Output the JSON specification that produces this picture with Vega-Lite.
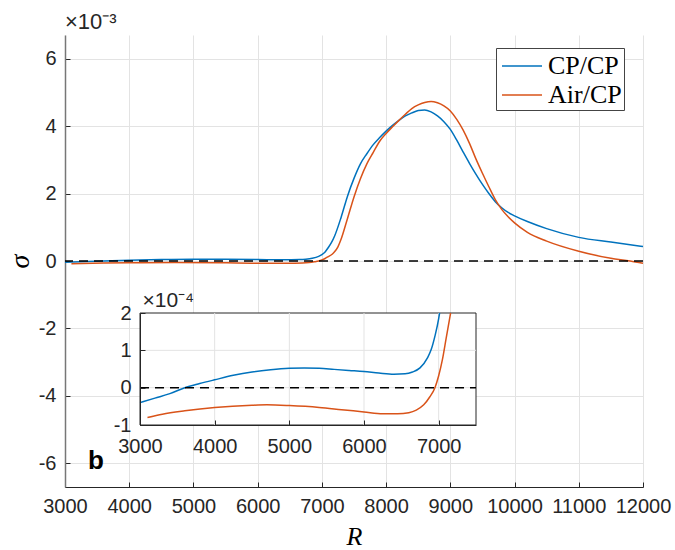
{
  "$schema": "https://vega.github.io/schema/vega-lite/v6.json",
  "width": 578,
  "height": 452,
  "autosize": {"type": "none"},
  "padding": {"left": 65, "top": 35, "right": 32, "bottom": 63},
  "background": "white",
  "config": {"view": {"stroke": null}, "font": "Liberation Sans"},
  "title": {"text": "×10⁻³", "anchor": "start", "frame": "group", "fontSize": 22, "fontWeight": "normal", "font": "Liberation Sans", "color": "#262626", "offset": 1},
  "datasets": {
    "main": [
      {"R": 3000, "sigma": -0.040, "series": "CP/CP"},
      {"R": 3600, "sigma": 0.000, "series": "CP/CP"},
      {"R": 4000, "sigma": 0.021, "series": "CP/CP"},
      {"R": 4500, "sigma": 0.042, "series": "CP/CP"},
      {"R": 5000, "sigma": 0.052, "series": "CP/CP"},
      {"R": 5500, "sigma": 0.050, "series": "CP/CP"},
      {"R": 6000, "sigma": 0.043, "series": "CP/CP"},
      {"R": 6400, "sigma": 0.036, "series": "CP/CP"},
      {"R": 6650, "sigma": 0.042, "series": "CP/CP"},
      {"R": 6750, "sigma": 0.053, "series": "CP/CP"},
      {"R": 6850, "sigma": 0.080, "series": "CP/CP"},
      {"R": 6950, "sigma": 0.138, "series": "CP/CP"},
      {"R": 7000, "sigma": 0.190, "series": "CP/CP"},
      {"R": 7050, "sigma": 0.270, "series": "CP/CP"},
      {"R": 7100, "sigma": 0.400, "series": "CP/CP"},
      {"R": 7150, "sigma": 0.550, "series": "CP/CP"},
      {"R": 7200, "sigma": 0.750, "series": "CP/CP"},
      {"R": 7300, "sigma": 1.300, "series": "CP/CP"},
      {"R": 7400, "sigma": 1.930, "series": "CP/CP"},
      {"R": 7500, "sigma": 2.450, "series": "CP/CP"},
      {"R": 7600, "sigma": 2.880, "series": "CP/CP"},
      {"R": 7700, "sigma": 3.180, "series": "CP/CP"},
      {"R": 7800, "sigma": 3.450, "series": "CP/CP"},
      {"R": 7900, "sigma": 3.660, "series": "CP/CP"},
      {"R": 8000, "sigma": 3.850, "series": "CP/CP"},
      {"R": 8100, "sigma": 4.020, "series": "CP/CP"},
      {"R": 8200, "sigma": 4.170, "series": "CP/CP"},
      {"R": 8300, "sigma": 4.300, "series": "CP/CP"},
      {"R": 8400, "sigma": 4.390, "series": "CP/CP"},
      {"R": 8500, "sigma": 4.460, "series": "CP/CP"},
      {"R": 8600, "sigma": 4.480, "series": "CP/CP"},
      {"R": 8700, "sigma": 4.420, "series": "CP/CP"},
      {"R": 8800, "sigma": 4.300, "series": "CP/CP"},
      {"R": 8900, "sigma": 4.130, "series": "CP/CP"},
      {"R": 9000, "sigma": 3.900, "series": "CP/CP"},
      {"R": 9100, "sigma": 3.580, "series": "CP/CP"},
      {"R": 9200, "sigma": 3.230, "series": "CP/CP"},
      {"R": 9300, "sigma": 2.890, "series": "CP/CP"},
      {"R": 9400, "sigma": 2.570, "series": "CP/CP"},
      {"R": 9500, "sigma": 2.270, "series": "CP/CP"},
      {"R": 9600, "sigma": 2.000, "series": "CP/CP"},
      {"R": 9700, "sigma": 1.760, "series": "CP/CP"},
      {"R": 9800, "sigma": 1.580, "series": "CP/CP"},
      {"R": 9900, "sigma": 1.440, "series": "CP/CP"},
      {"R": 10000, "sigma": 1.340, "series": "CP/CP"},
      {"R": 10200, "sigma": 1.170, "series": "CP/CP"},
      {"R": 10500, "sigma": 0.960, "series": "CP/CP"},
      {"R": 11000, "sigma": 0.700, "series": "CP/CP"},
      {"R": 11500, "sigma": 0.560, "series": "CP/CP"},
      {"R": 12000, "sigma": 0.430, "series": "CP/CP"},
      {"R": 3100, "sigma": -0.080, "series": "Air/CP"},
      {"R": 3600, "sigma": -0.062, "series": "Air/CP"},
      {"R": 4000, "sigma": -0.053, "series": "Air/CP"},
      {"R": 4700, "sigma": -0.046, "series": "Air/CP"},
      {"R": 5400, "sigma": -0.053, "series": "Air/CP"},
      {"R": 6000, "sigma": -0.065, "series": "Air/CP"},
      {"R": 6450, "sigma": -0.070, "series": "Air/CP"},
      {"R": 6700, "sigma": -0.060, "series": "Air/CP"},
      {"R": 6800, "sigma": -0.046, "series": "Air/CP"},
      {"R": 6880, "sigma": -0.025, "series": "Air/CP"},
      {"R": 6950, "sigma": 0.000, "series": "Air/CP"},
      {"R": 7000, "sigma": 0.032, "series": "Air/CP"},
      {"R": 7050, "sigma": 0.075, "series": "Air/CP"},
      {"R": 7100, "sigma": 0.132, "series": "Air/CP"},
      {"R": 7160, "sigma": 0.200, "series": "Air/CP"},
      {"R": 7200, "sigma": 0.280, "series": "Air/CP"},
      {"R": 7250, "sigma": 0.420, "series": "Air/CP"},
      {"R": 7300, "sigma": 0.650, "series": "Air/CP"},
      {"R": 7400, "sigma": 1.270, "series": "Air/CP"},
      {"R": 7500, "sigma": 1.900, "series": "Air/CP"},
      {"R": 7600, "sigma": 2.440, "series": "Air/CP"},
      {"R": 7700, "sigma": 2.880, "series": "Air/CP"},
      {"R": 7800, "sigma": 3.220, "series": "Air/CP"},
      {"R": 7900, "sigma": 3.550, "series": "Air/CP"},
      {"R": 8000, "sigma": 3.780, "series": "Air/CP"},
      {"R": 8100, "sigma": 3.980, "series": "Air/CP"},
      {"R": 8200, "sigma": 4.170, "series": "Air/CP"},
      {"R": 8300, "sigma": 4.350, "series": "Air/CP"},
      {"R": 8400, "sigma": 4.520, "series": "Air/CP"},
      {"R": 8500, "sigma": 4.630, "series": "Air/CP"},
      {"R": 8600, "sigma": 4.700, "series": "Air/CP"},
      {"R": 8700, "sigma": 4.730, "series": "Air/CP"},
      {"R": 8800, "sigma": 4.690, "series": "Air/CP"},
      {"R": 8900, "sigma": 4.600, "series": "Air/CP"},
      {"R": 9000, "sigma": 4.450, "series": "Air/CP"},
      {"R": 9100, "sigma": 4.200, "series": "Air/CP"},
      {"R": 9200, "sigma": 3.880, "series": "Air/CP"},
      {"R": 9300, "sigma": 3.480, "series": "Air/CP"},
      {"R": 9400, "sigma": 3.020, "series": "Air/CP"},
      {"R": 9500, "sigma": 2.600, "series": "Air/CP"},
      {"R": 9600, "sigma": 2.200, "series": "Air/CP"},
      {"R": 9700, "sigma": 1.820, "series": "Air/CP"},
      {"R": 9800, "sigma": 1.530, "series": "Air/CP"},
      {"R": 9900, "sigma": 1.310, "series": "Air/CP"},
      {"R": 10000, "sigma": 1.130, "series": "Air/CP"},
      {"R": 10200, "sigma": 0.850, "series": "Air/CP"},
      {"R": 10500, "sigma": 0.590, "series": "Air/CP"},
      {"R": 11000, "sigma": 0.290, "series": "Air/CP"},
      {"R": 11500, "sigma": 0.080, "series": "Air/CP"},
      {"R": 11800, "sigma": 0.000, "series": "Air/CP"},
      {"R": 12000, "sigma": -0.070, "series": "Air/CP"}
    ],
    "inset": [
      {"R": 3000, "sigma4": -0.40, "series": "CP/CP"},
      {"R": 3200, "sigma4": -0.28, "series": "CP/CP"},
      {"R": 3400, "sigma4": -0.16, "series": "CP/CP"},
      {"R": 3600, "sigma4": 0.00, "series": "CP/CP"},
      {"R": 3800, "sigma4": 0.11, "series": "CP/CP"},
      {"R": 4000, "sigma4": 0.21, "series": "CP/CP"},
      {"R": 4250, "sigma4": 0.33, "series": "CP/CP"},
      {"R": 4500, "sigma4": 0.42, "series": "CP/CP"},
      {"R": 4750, "sigma4": 0.48, "series": "CP/CP"},
      {"R": 5000, "sigma4": 0.52, "series": "CP/CP"},
      {"R": 5200, "sigma4": 0.53, "series": "CP/CP"},
      {"R": 5400, "sigma4": 0.52, "series": "CP/CP"},
      {"R": 5600, "sigma4": 0.49, "series": "CP/CP"},
      {"R": 5800, "sigma4": 0.46, "series": "CP/CP"},
      {"R": 6000, "sigma4": 0.43, "series": "CP/CP"},
      {"R": 6200, "sigma4": 0.39, "series": "CP/CP"},
      {"R": 6400, "sigma4": 0.36, "series": "CP/CP"},
      {"R": 6550, "sigma4": 0.37, "series": "CP/CP"},
      {"R": 6650, "sigma4": 0.42, "series": "CP/CP"},
      {"R": 6750, "sigma4": 0.53, "series": "CP/CP"},
      {"R": 6850, "sigma4": 0.80, "series": "CP/CP"},
      {"R": 6900, "sigma4": 1.02, "series": "CP/CP"},
      {"R": 6950, "sigma4": 1.38, "series": "CP/CP"},
      {"R": 7000, "sigma4": 1.85, "series": "CP/CP"},
      {"R": 7012, "sigma4": 2.00, "series": "CP/CP"},
      {"R": 3100, "sigma4": -0.80, "series": "Air/CP"},
      {"R": 3300, "sigma4": -0.71, "series": "Air/CP"},
      {"R": 3600, "sigma4": -0.62, "series": "Air/CP"},
      {"R": 4000, "sigma4": -0.53, "series": "Air/CP"},
      {"R": 4500, "sigma4": -0.47, "series": "Air/CP"},
      {"R": 4700, "sigma4": -0.46, "series": "Air/CP"},
      {"R": 5000, "sigma4": -0.48, "series": "Air/CP"},
      {"R": 5400, "sigma4": -0.53, "series": "Air/CP"},
      {"R": 5700, "sigma4": -0.59, "series": "Air/CP"},
      {"R": 6000, "sigma4": -0.65, "series": "Air/CP"},
      {"R": 6250, "sigma4": -0.70, "series": "Air/CP"},
      {"R": 6450, "sigma4": -0.70, "series": "Air/CP"},
      {"R": 6600, "sigma4": -0.67, "series": "Air/CP"},
      {"R": 6700, "sigma4": -0.60, "series": "Air/CP"},
      {"R": 6800, "sigma4": -0.46, "series": "Air/CP"},
      {"R": 6880, "sigma4": -0.25, "series": "Air/CP"},
      {"R": 6950, "sigma4": 0.00, "series": "Air/CP"},
      {"R": 7000, "sigma4": 0.32, "series": "Air/CP"},
      {"R": 7050, "sigma4": 0.75, "series": "Air/CP"},
      {"R": 7100, "sigma4": 1.32, "series": "Air/CP"},
      {"R": 7160, "sigma4": 2.00, "series": "Air/CP"}
    ]
  },
  "layer": [
    {
      "layer": [
        {
          "data": {"name": "main"},
          "mark": {"type": "line", "strokeWidth": 1.5, "interpolate": "monotone"},
          "encoding": {
            "x": {"field": "R", "type": "quantitative",
              "scale": {"domain": [3000, 12000], "nice": false, "zero": false},
              "axis": {"orient": "bottom", "values": [3000, 4000, 5000, 6000, 7000, 8000, 9000, 10000, 11000, 12000], "format": "d",
                "grid": true, "gridColor": "#e3e3e3", "domainColor": "#262626", "tickColor": "#262626", "tickSize": -5,
                "labelFontSize": 20, "labelColor": "#262626", "labelPadding": 14, "labelFlush": false, "labelOverlap": false, "labelBound": false,
                "title": "R", "titleFont": "Liberation Serif", "titleFontStyle": "italic", "titleFontWeight": "normal", "titleFontSize": 26, "titleColor": "black", "titleY": 49, "titleBaseline": "middle"}},
            "y": {"field": "sigma", "type": "quantitative",
              "scale": {"domain": [-6.7, 6.7], "nice": false, "zero": false},
              "axis": {"orient": "left", "values": [-6, -4, -2, 0, 2, 4, 6], "labelExpr": "replace(datum.label, '−', '-')",
                "grid": true, "gridColor": "#e3e3e3", "domainColor": "#777", "domainWidth": 1.5, "tickColor": "#262626", "tickSize": -5,
                "labelFontSize": 20, "labelColor": "#262626", "labelPadding": 14, "labelFlush": false, "labelOverlap": false, "labelBound": false,
                "title": "σ", "titleFont": "Liberation Serif", "titleFontStyle": "italic", "titleFontWeight": "normal", "titleFontSize": 28, "titleColor": "black", "titleX": -45, "titleY": 226, "titleAngle": 270, "titleBaseline": "middle", "titleAlign": "center"}},
            "color": {"field": "series", "type": "nominal",
              "scale": {"domain": ["CP/CP", "Air/CP"], "range": ["#0072BD", "#D95319"]},
              "legend": {"orient": "none", "legendX": 431, "legendY": 13, "title": null,
                "symbolType": "M-1.333,0H1.333", "symbolSize": 900, "symbolStrokeWidth": 1.5, "symbolOffset": 8,
                "labelFont": "Liberation Serif", "labelFontSize": 26, "labelColor": "black", "labelOffset": 10,
                "fillColor": "white", "strokeColor": "#444", "padding": 2, "rowPadding": 0}}
          }
        },
        {
          "data": {"values": [{}]},
          "mark": {"type": "rule", "color": "black", "strokeWidth": 1.5, "strokeDash": [9, 6]},
          "encoding": {"y": {"datum": 0, "type": "quantitative"}}
        },
        {
          "data": {"values": [{"R": 3480, "sigma": -6.18, "label": "b"}]},
          "mark": {"type": "text", "font": "Liberation Sans", "fontWeight": "bold", "fontSize": 26, "align": "center", "baseline": "alphabetic", "color": "black"},
          "encoding": {"x": {"field": "R", "type": "quantitative"}, "y": {"field": "sigma", "type": "quantitative"}, "text": {"field": "label"}}
        }
      ]
    },
    {
      "layer": [
        {
          "data": {"values": [{}]},
          "mark": {"type": "rect", "fill": "white", "stroke": "#262626", "strokeWidth": 1},
          "encoding": {
            "x": {"datum": 3000, "type": "quantitative", "scale": {"domain": [3000, 7500], "range": [75, 411], "nice": false, "zero": false},
              "axis": {"orient": "bottom", "offset": -62, "zindex": 1, "values": [3000, 4000, 5000, 6000, 7000], "format": "d",
                "grid": false, "domainColor": "#262626", "tickColor": "#262626", "tickSize": -5,
                "labelFontSize": 20, "labelColor": "#262626", "labelPadding": 16, "labelFlush": false, "labelOverlap": false, "labelBound": false, "title": null}},
            "x2": {"datum": 7500},
            "y": {"datum": -1, "type": "quantitative", "scale": {"domain": [-1, 2], "range": [390, 278], "nice": false, "zero": false},
              "axis": {"orient": "left", "offset": -75, "zindex": 1, "values": [-1, 0, 1, 2], "labelExpr": "replace(datum.label, '−', '-')",
                "grid": false, "domainColor": "#262626", "tickColor": "#262626", "tickSize": -5,
                "labelFontSize": 20, "labelColor": "#262626", "labelPadding": 14, "labelFlush": false, "labelOverlap": false, "labelBound": false,
                "title": "×10⁻⁴", "titleAngle": 0, "titleX": 2, "titleY": 271, "titleAlign": "left", "titleBaseline": "alphabetic", "titleFontSize": 21, "titleFontWeight": "normal", "titleColor": "#262626"}},
            "y2": {"datum": 2}
          }
        },
        {
          "data": {"values": [{"tick": 4000}, {"tick": 5000}, {"tick": 6000}, {"tick": 7000}]},
          "mark": {"type": "rule", "color": "#e3e3e3", "strokeWidth": 1},
          "encoding": {
            "x": {"field": "tick", "type": "quantitative", "scale": {"domain": [3000, 7500], "range": [75, 411], "nice": false, "zero": false},
              "axis": {"orient": "bottom", "offset": -62, "zindex": 1, "values": [3000, 4000, 5000, 6000, 7000], "format": "d",
                "grid": false, "domainColor": "#262626", "tickColor": "#262626", "tickSize": -5,
                "labelFontSize": 20, "labelColor": "#262626", "labelPadding": 16, "labelFlush": false, "labelOverlap": false, "labelBound": false, "title": null}},
            "y": {"datum": -1, "type": "quantitative", "scale": {"domain": [-1, 2], "range": [390, 278], "nice": false, "zero": false},
              "axis": {"orient": "left", "offset": -75, "zindex": 1, "values": [-1, 0, 1, 2], "labelExpr": "replace(datum.label, '−', '-')",
                "grid": false, "domainColor": "#262626", "tickColor": "#262626", "tickSize": -5,
                "labelFontSize": 20, "labelColor": "#262626", "labelPadding": 14, "labelFlush": false, "labelOverlap": false, "labelBound": false,
                "title": "×10⁻⁴", "titleAngle": 0, "titleX": 2, "titleY": 271, "titleAlign": "left", "titleBaseline": "alphabetic", "titleFontSize": 21, "titleFontWeight": "normal", "titleColor": "#262626"}},
            "y2": {"datum": 2}
          }
        },
        {
          "data": {"values": [{"tick": 0}, {"tick": 1}]},
          "mark": {"type": "rule", "color": "#e3e3e3", "strokeWidth": 1},
          "encoding": {
            "x": {"datum": 3000, "type": "quantitative", "scale": {"domain": [3000, 7500], "range": [75, 411], "nice": false, "zero": false},
              "axis": {"orient": "bottom", "offset": -62, "zindex": 1, "values": [3000, 4000, 5000, 6000, 7000], "format": "d",
                "grid": false, "domainColor": "#262626", "tickColor": "#262626", "tickSize": -5,
                "labelFontSize": 20, "labelColor": "#262626", "labelPadding": 16, "labelFlush": false, "labelOverlap": false, "labelBound": false, "title": null}},
            "x2": {"datum": 7500},
            "y": {"field": "tick", "type": "quantitative", "scale": {"domain": [-1, 2], "range": [390, 278], "nice": false, "zero": false},
              "axis": {"orient": "left", "offset": -75, "zindex": 1, "values": [-1, 0, 1, 2], "labelExpr": "replace(datum.label, '−', '-')",
                "grid": false, "domainColor": "#262626", "tickColor": "#262626", "tickSize": -5,
                "labelFontSize": 20, "labelColor": "#262626", "labelPadding": 14, "labelFlush": false, "labelOverlap": false, "labelBound": false,
                "title": "×10⁻⁴", "titleAngle": 0, "titleX": 2, "titleY": 271, "titleAlign": "left", "titleBaseline": "alphabetic", "titleFontSize": 21, "titleFontWeight": "normal", "titleColor": "#262626"}}
          }
        },
        {
          "data": {"name": "inset"},
          "mark": {"type": "line", "strokeWidth": 1.5, "interpolate": "monotone"},
          "encoding": {
            "x": {"field": "R", "type": "quantitative", "scale": {"domain": [3000, 7500], "range": [75, 411], "nice": false, "zero": false},
              "axis": {"orient": "bottom", "offset": -62, "zindex": 1, "values": [3000, 4000, 5000, 6000, 7000], "format": "d",
                "grid": false, "domainColor": "#262626", "tickColor": "#262626", "tickSize": -5,
                "labelFontSize": 20, "labelColor": "#262626", "labelPadding": 16, "labelFlush": false, "labelOverlap": false, "labelBound": false, "title": null}},
            "y": {"field": "sigma4", "type": "quantitative", "scale": {"domain": [-1, 2], "range": [390, 278], "nice": false, "zero": false},
              "axis": {"orient": "left", "offset": -75, "zindex": 1, "values": [-1, 0, 1, 2], "labelExpr": "replace(datum.label, '−', '-')",
                "grid": false, "domainColor": "#262626", "tickColor": "#262626", "tickSize": -5,
                "labelFontSize": 20, "labelColor": "#262626", "labelPadding": 14, "labelFlush": false, "labelOverlap": false, "labelBound": false,
                "title": "×10⁻⁴", "titleAngle": 0, "titleX": 2, "titleY": 271, "titleAlign": "left", "titleBaseline": "alphabetic", "titleFontSize": 21, "titleFontWeight": "normal", "titleColor": "#262626"}},
            "color": {"field": "series", "type": "nominal", "legend": null}
          }
        },
        {
          "data": {"values": [{}]},
          "mark": {"type": "rule", "color": "black", "strokeWidth": 1.5, "strokeDash": [9, 6]},
          "encoding": {
            "x": {"datum": 3000, "type": "quantitative", "scale": {"domain": [3000, 7500], "range": [75, 411], "nice": false, "zero": false},
              "axis": {"orient": "bottom", "offset": -62, "zindex": 1, "values": [3000, 4000, 5000, 6000, 7000], "format": "d",
                "grid": false, "domainColor": "#262626", "tickColor": "#262626", "tickSize": -5,
                "labelFontSize": 20, "labelColor": "#262626", "labelPadding": 16, "labelFlush": false, "labelOverlap": false, "labelBound": false, "title": null}},
            "x2": {"datum": 7500},
            "y": {"datum": 0, "type": "quantitative", "scale": {"domain": [-1, 2], "range": [390, 278], "nice": false, "zero": false},
              "axis": {"orient": "left", "offset": -75, "zindex": 1, "values": [-1, 0, 1, 2], "labelExpr": "replace(datum.label, '−', '-')",
                "grid": false, "domainColor": "#262626", "tickColor": "#262626", "tickSize": -5,
                "labelFontSize": 20, "labelColor": "#262626", "labelPadding": 14, "labelFlush": false, "labelOverlap": false, "labelBound": false,
                "title": "×10⁻⁴", "titleAngle": 0, "titleX": 2, "titleY": 271, "titleAlign": "left", "titleBaseline": "alphabetic", "titleFontSize": 21, "titleFontWeight": "normal", "titleColor": "#262626"}}
          }
        }
      ]
    }
  ],
  "resolve": {"scale": {"x": "independent", "y": "independent"}, "axis": {"x": "independent", "y": "independent"}}
}
